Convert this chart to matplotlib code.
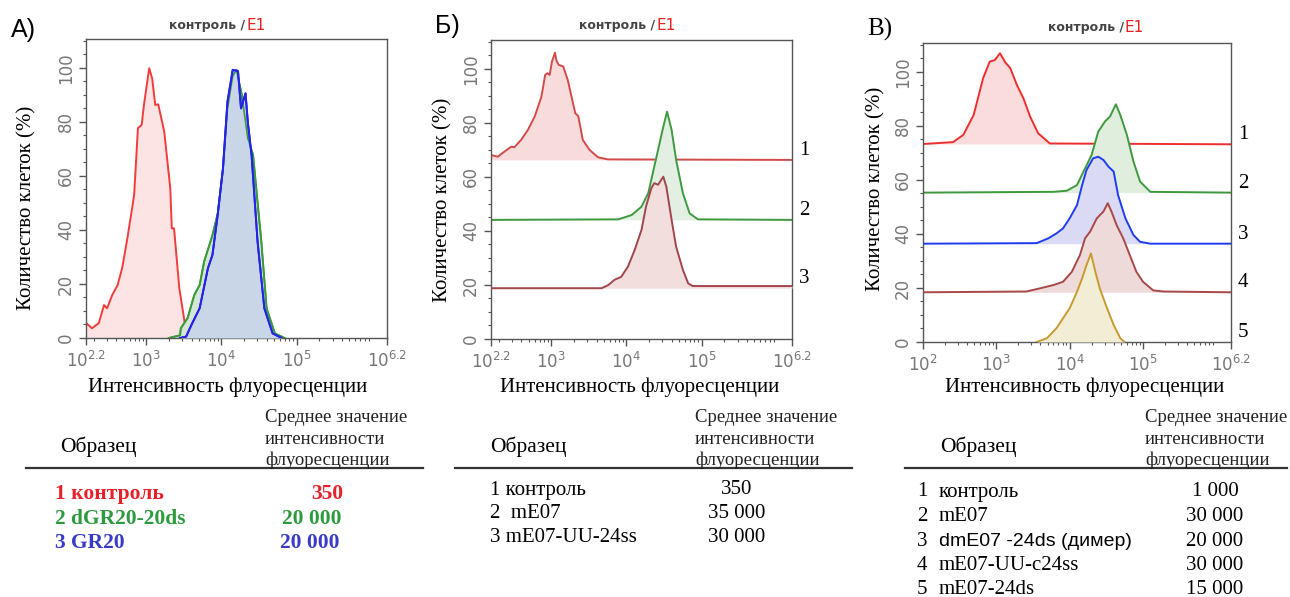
import numpy as np
import matplotlib as mpl
mpl.use('Agg')
import matplotlib.pyplot as plt
from matplotlib.ticker import MultipleLocator, LogLocator, NullFormatter

plt.rcParams['mathtext.default'] = 'regular'

# ---- data: log10(intensity), % of cells ----
# panel A
a_ctrl_lg = [2.2, 2.28, 2.37, 2.44, 2.48, 2.55, 2.62, 2.68, 2.75, 2.84, 2.89, 2.94, 2.97, 3.04, 3.08,
             3.12, 3.16, 3.24, 3.32, 3.34, 3.37, 3.44, 3.51, 3.6, 3.8]
a_ctrl_y = [5.6, 3.6, 5.5, 12.2, 11, 16, 19.6, 25.8, 36.9, 53, 77.7, 78.9, 86.3, 99.9, 96,
            86.3, 86.5, 76.4, 55.4, 40.6, 40.6, 18.4, 6, 0.5, 0]
a_dgr_lg = [3.3, 3.45, 3.46, 3.55, 3.64, 3.71, 3.77, 3.88, 3.95, 4.02, 4.08, 4.15, 4.2, 4.27, 4.35,
            4.42, 4.53, 4.6, 4.71, 4.84]
a_dgr_y = [0, 1, 3.6, 7.4, 16, 19.6, 28.3, 38, 46, 62, 85, 97, 99.3, 90, 74, 67.8, 35.7, 11, 1.7, 0]
a_gr_lg = [3.45, 3.53, 3.6, 3.71, 3.82, 3.88, 3.95, 4.02, 4.08, 4.15, 4.22, 4.26, 4.32, 4.35, 4.4,
           4.48, 4.57, 4.68, 4.8]
a_gr_y = [0, 0.5, 4.8, 11, 25.8, 30.7, 45.5, 62.8, 87.5, 99.3, 98.8, 85, 90.6, 80, 67.8, 35.7, 11, 1.7, 0]

# panel B (curves are offset, baseline = offset)
b_ctrl_lg = [2.2, 2.29, 2.38, 2.47, 2.51, 2.6, 2.69, 2.78, 2.87, 2.92, 2.95, 2.98, 3.01, 3.05, 3.07,
             3.1, 3.16, 3.22, 3.32, 3.36, 3.42, 3.51, 3.62, 3.75, 6.2]
b_ctrl_y = [68.1, 67.5, 69.4, 71.2, 71, 73.7, 77.4, 82.3, 89.7, 97.8, 98.4, 97.8, 102.7, 106, 103,
            101.5, 100.9, 95.9, 83.6, 82.5, 73.7, 70, 67.3, 66.5, 66.3]
b_me07_lg = [2.2, 3.89, 4.07, 4.2, 4.29, 4.35, 4.42, 4.49, 4.54, 4.6, 4.66, 4.75, 4.84, 4.95, 6.2]
b_me07_y = [44.1, 44.3, 45.9, 49, 54, 61.4, 70, 78.6, 84.2, 77.4, 66.3, 54, 46.5, 44.3, 44.1]
b_uu_lg = [2.2, 3.67, 3.76, 3.84, 3.93, 4.02, 4.11, 4.2, 4.26, 4.33, 4.37, 4.42, 4.49, 4.53, 4.6,
           4.66, 4.75, 4.82, 4.88, 6.2]
b_uu_y = [18.8, 18.8, 20, 21.9, 23, 26.8, 33, 40.4, 49, 55.8, 57.7, 57.1, 60.1, 56.4, 44.1,
          34.2, 25.6, 20.6, 19.6, 19.6]
b_base = [66.3, 44.1, 18.8]

# panel C
c_ctrl_lg = [2.0, 2.41, 2.55, 2.69, 2.82, 2.91, 2.98, 3.05, 3.12, 3.19, 3.28, 3.37, 3.46, 3.57, 3.73, 6.2]
c_ctrl_y = [73.3, 74, 76.7, 84, 97.7, 103.8, 104.4, 106.9, 103.6, 101.4, 95.2, 90.2, 83.5, 77.3, 73.5, 73.2]
c_me07_lg = [2.0, 3.78, 3.96, 4.1, 4.21, 4.3, 4.39, 4.48, 4.55, 4.63, 4.69, 4.78, 4.87, 4.96, 5.1, 6.2]
c_me07_y = [55.3, 55.6, 56, 58.1, 64.3, 69.3, 77.9, 81.6, 83.5, 88, 84.1, 76.7, 66.8, 59.4, 55.6, 55.3]
c_dim_lg = [2.0, 3.55, 3.71, 3.82, 3.91, 4.0, 4.1, 4.17, 4.23, 4.32, 4.39, 4.46, 4.53, 4.6, 4.66,
            4.76, 4.87, 4.96, 5.1, 6.2]
c_dim_y = [36.4, 36.6, 38.4, 40.2, 42.1, 45.8, 50.7, 58.1, 63.7, 68, 68.6, 67.4, 64.9, 63.1, 54.4,
           45.8, 39.6, 37.1, 36.4, 36.4]
c_uu_lg = [2.0, 3.41, 3.6, 3.78, 3.91, 4.03, 4.14, 4.21, 4.28, 4.37, 4.46, 4.52, 4.57, 4.64, 4.73,
           4.82, 4.91, 5.0, 5.14, 5.28, 6.2]
c_uu_y = [18.4, 18.7, 19.9, 21.1, 22.3, 26, 32.2, 38.4, 40.9, 45.8, 48.3, 51.4, 48.3, 43.3, 38.4,
          32.2, 26, 22.3, 19.1, 18.7, 18.4]
c_ds_lg = [3.55, 3.69, 3.82, 3.91, 4.0, 4.1, 4.17, 4.23, 4.29, 4.35, 4.41, 4.51, 4.6, 4.69, 4.75]
c_ds_y = [0, 1.4, 5.1, 8.8, 12.5, 18.6, 23.6, 28.5, 32.8, 26, 19.9, 12.5, 6.3, 1.4, 0]
c_base = [73.3, 55.3, 36.4, 18.4, 0]

# tables
a_names = ["1 контроль", "2 dGR20-20ds", "3 GR20"]
a_values = ["350", "20 000", "20 000"]
b_names = ["1 контроль", "2  mE07", "3 mE07-UU-24ss"]
b_values = ["350", "35 000", "30 000"]
c_nums = ["1", "2", "3", "4", "5"]
c_names = ["контроль", "mE07", "dmE07 -24ds (димер)", "mE07-UU-c24ss", "mE07-24ds"]
c_values = ["1 000", "30 000", "20 000", "30 000", "15 000"]

SERIF = 'Liberation Serif'
W, H = 1290, 597


def fx(px):
    return px / W


def fy(py):
    return 1 - py / H


fig = plt.figure(figsize=(12.9, 5.97), dpi=100)
fig.patch.set_facecolor('white')


def style_axis(ax, xmin_lg, xticks_lg, xlabels):
    ax.set_xscale('log')
    ax.set_xlim(10 ** xmin_lg, 10 ** 6.2)
    ax.set_ylim(0, 110.7)
    ax.set_xticks([10 ** v for v in xticks_lg])
    ax.set_xticklabels(xlabels)
    ax.xaxis.set_minor_locator(LogLocator(base=10, subs=np.arange(2, 10)))
    ax.xaxis.set_minor_formatter(NullFormatter())
    ax.set_yticks([0, 20, 40, 60, 80, 100])
    ax.yaxis.set_minor_locator(MultipleLocator(5))
    for lab in ax.get_yticklabels():
        lab.set_rotation(90)
        lab.set_va('center')
    ax.tick_params(which='major', direction='out', length=5, width=1, color='#555',
                   labelcolor='#777', labelsize=12, pad=3)
    ax.tick_params(axis='x', which='major', pad=4)
    ax.tick_params(which='minor', direction='out', length=2.5, width=0.8, color='#555')
    for s in ax.spines.values():
        s.set_color('#555')
        s.set_linewidth(1.0)


def curve(ax, lg, y, base, line, fill, z):
    x = [10 ** v for v in lg]
    ax.fill_between(x, base, y, color=fill, lw=0, zorder=z)
    ax.plot(x, y, color=line, lw=1.4, zorder=z + 0.5)


xlab = [r'$10^{2.2}$', r'$10^{3}$', r'$10^{4}$', r'$10^{5}$', r'$10^{6.2}$']

# ---- panel A ----
axA = fig.add_axes([fx(86), fy(338), 301 / W, 299 / H])
curve(axA, a_dgr_lg, a_dgr_y, 0, '#3c9a3c', '#d6e6d6', 2)
curve(axA, a_gr_lg, a_gr_y, 0, '#2424e6', '#c8d6e8', 3)
axA.plot([10 ** v for v in a_dgr_lg], a_dgr_y, color='#3c9a3c', lw=1.2, zorder=3.2)
axA.plot([10 ** v for v in a_gr_lg], a_gr_y, color='#2424e6', lw=1.4, zorder=3.4)
curve(axA, a_ctrl_lg, a_ctrl_y, 0, '#f23c3c', '#fde4e4', 1)
style_axis(axA, 2.2, [2.2, 3, 4, 5, 6.2], xlab)

# ---- panel B ----
axB = fig.add_axes([fx(491), fy(339), 301 / W, 299 / H])
curve(axB, b_ctrl_lg, b_ctrl_y, b_base[0], '#d24a4a', '#f8dcdc', 1)
curve(axB, b_me07_lg, b_me07_y, b_base[1], '#3e9a3e', '#e2efe2', 2)
curve(axB, b_uu_lg, b_uu_y, b_base[2], '#a0464c', '#f3dede', 3)
style_axis(axB, 2.2, [2.2, 3, 4, 5, 6.2], xlab)
for i, b in enumerate(b_base):
    axB.text(1.04, b + 3.5, str(i + 1), transform=axB.get_yaxis_transform(), fontsize=15,
             family=SERIF, va='center', ha='center', clip_on=False)

# ---- panel C ----
axC = fig.add_axes([fx(923), fy(342), 308 / W, 299 / H])
curve(axC, c_ctrl_lg, c_ctrl_y, c_base[0], '#ee2e2e', '#fbdcdc', 1)
curve(axC, c_me07_lg, c_me07_y, c_base[1], '#3e993e', '#e0eedd', 2)
curve(axC, c_dim_lg, c_dim_y, c_base[2], '#1e3cf0', '#dadaf5', 3)
curve(axC, c_uu_lg, c_uu_y, c_base[3], '#a84848', '#efdada', 4)
curve(axC, c_ds_lg, c_ds_y, c_base[4], '#c89a30', '#f2eed6', 5)
style_axis(axC, 2.0, [2, 3, 4, 5, 6.2], [r'$10^{2}$'] + xlab[1:])
for i, b in enumerate(c_base):
    axC.text(1.04, b + 3.5, str(i + 1), transform=axC.get_yaxis_transform(), fontsize=15,
             family=SERIF, va='center', ha='center', clip_on=False)

# ---- labels around the plots ----
for lab, x, yl, fam in [("А)", 11, 30, 'Liberation Sans'), ("Б)", 435, 26, 'Liberation Sans'),
                        ("В)", 867, 29, SERIF)]:
    fig.text(fx(x), fy(yl), lab, fontsize=18, family=fam, ha='left', va='center')

for xs, ys in [(245, 25), (655, 25), (1124, 28)]:
    fig.text(fx(xs), fy(ys), "контроль /", fontsize=9, color='#444', family='DejaVu Sans',
             weight='bold', ha='right', va='center')
    fig.text(fx(xs + 1), fy(ys), "E1", fontsize=11, color='#e82020', family='DejaVu Sans',
             ha='left', va='center')

for xl, yl in [(27, 208), (443, 200), (876, 189)]:
    fig.text(fx(xl), fy(yl), "Количество клеток (%)", rotation=90, fontsize=15,
             family=SERIF, ha='center', va='center')
for xl in [228, 640, 1085]:
    fig.text(fx(xl), fy(387), "Интенсивность флуоресценции", fontsize=15,
             family=SERIF, ha='center', va='center')

# ---- tables ----
def header(x_name, x_val, x0, x1):
    fig.text(fx(x_name), fy(447), "Образец", fontsize=15.5, family=SERIF, va='center')
    for k, t in enumerate(["Среднее значение", "интенсивности", "флуоресценции"]):
        fig.text(fx(x_val), fy(418 + 21 * k), t, fontsize=13.5, family=SERIF, va='center',
                 color='#222')
    fig.add_artist(plt.Line2D([fx(x0), fx(x1)], [fy(468), fy(468)], color='#333', lw=1.6))


header(60, 265, 26, 423)
a_colors = ['#e8202a', '#2e9a3e', '#3a3ac8']
for k in range(3):
    fig.text(fx(55), fy(494 + 24.5 * k), a_names[k], fontsize=15.5, family=SERIF, weight='bold',
             color=a_colors[k], va='center')
    fig.text(fx(343 - 2 * k), fy(494 + 24.5 * k), a_values[k], fontsize=15.5, family=SERIF,
             weight='bold', color=a_colors[k], va='center', ha='right')

header(490, 695, 455, 852)
for k in range(3):
    fig.text(fx(490), fy(490 + 24 * k), b_names[k], fontsize=15, family=SERIF, va='center')
    fig.text(fx(737), fy(490 + 24 * k), b_values[k], fontsize=15, family=SERIF, va='center',
             ha='center')

header(940, 1145, 905, 1287)
for k in range(5):
    yk = fy(492 + 24.5 * k)
    fig.text(fx(917), yk, c_nums[k], fontsize=15, family=SERIF, va='center')
    fam = 'Liberation Sans' if k == 2 else SERIF
    fig.text(fx(939), yk, c_names[k], fontsize=15 if k != 2 else 14, family=fam, va='center')
    fig.text(fx(1215), yk, c_values[k], fontsize=15, family=SERIF, va='center', ha='center')

plt.savefig("out.png", dpi=100)
